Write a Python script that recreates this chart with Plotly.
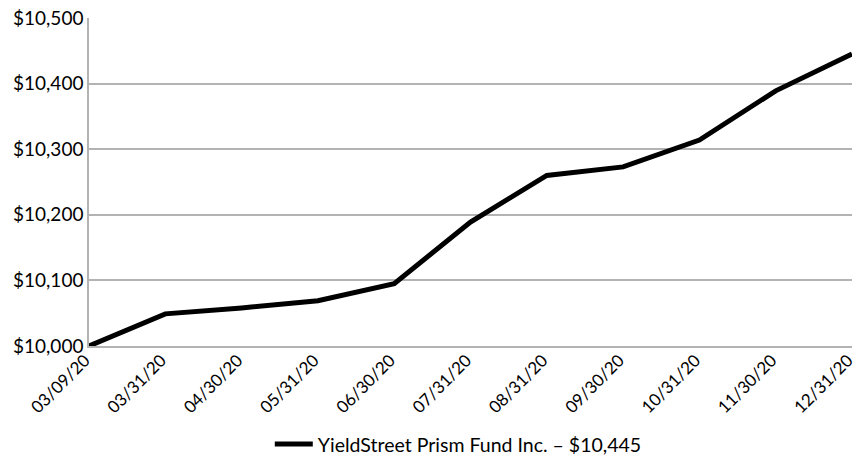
import plotly.graph_objects as go

dates = ["03/09/20", "03/31/20", "04/30/20", "05/31/20", "06/30/20", "07/31/20",
         "08/31/20", "09/30/20", "10/31/20", "11/30/20", "12/31/20"]
values = [10000, 10049, 10058, 10069, 10095, 10189, 10260, 10273, 10314, 10389, 10445]
series_name = "YieldStreet Prism Fund Inc. – $10,445"
y_ticks = [10000, 10100, 10200, 10300, 10400, 10500]
y_tick_labels = ["$10,000", "$10,100", "$10,200", "$10,300", "$10,400", "$10,500"]

FONT = "Lato, 'Open Sans', sans-serif"
GRID = "#b3b3b3"

fig = go.Figure()
fig.add_trace(go.Scatter(
    x=dates, y=values, mode="lines", name=series_name,
    line=dict(color="black", width=5),
))

fig.update_layout(
    width=857, height=457,
    margin=dict(l=89, r=5, t=18, b=111, autoexpand=False),
    paper_bgcolor="white", plot_bgcolor="white",
    font=dict(family=FONT, size=18, color="black"),
    showlegend=True,
    legend=dict(orientation="h", x=0.484, xanchor="center", y=-0.30, yanchor="middle",
                itemwidth=38,
                font=dict(family=FONT, size=19.5, color="black"),
                bgcolor="rgba(0,0,0,0)"),
    xaxis=dict(type="category", range=[0, 10], tickangle=-45, automargin=False,
               showgrid=False, showline=True, linecolor=GRID, linewidth=1.5,
               ticks="", tickfont=dict(size=17), ticklabelstandoff=-4,
               ticklabelshift=-4),
    yaxis=dict(range=[10000, 10500], tickvals=y_ticks, ticktext=y_tick_labels,
               automargin=False,
               showgrid=True, gridcolor=GRID, gridwidth=1.5,
               showline=True, linecolor=GRID, linewidth=1.5,
               zeroline=False, ticks="", tickfont=dict(size=19)),
)

fig.write_html("out.html")
